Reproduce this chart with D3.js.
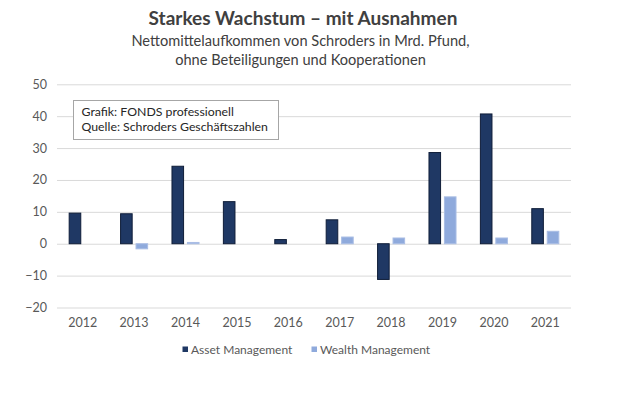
<!DOCTYPE html>
<html><head><meta charset="utf-8">
<script src="https://cdn.jsdelivr.net/npm/d3@7"></script>
<style>body{margin:0;background:#fff;} svg{display:block;font-family:Lato,"Noto Sans",sans-serif;}</style>
</head><body>
<svg id="c" width="620" height="413"></svg>
<script>
const years = ["2012","2013","2014","2015","2016","2017","2018","2019","2020","2021"];
const assetMgmt = [9.6, 9.4, 24.3, 13.2, 1.3, 7.5, -11.2, 28.6, 40.7, 11.0];
const wealthMgmt = [null, -1.6, 0.4, null, null, 2.1, 1.8, 14.7, 1.8, 3.9];
const seriesNames = ["Asset Management", "Wealth Management"];
const yTicks = [-20, -10, 0, 10, 20, 30, 40, 50];
const titleText = "Starkes Wachstum – mit Ausnahmen";
const subtitleLines = ["Nettomittelaufkommen von Schroders in Mrd. Pfund,", "ohne Beteiligungen und Kooperationen"];
const noteLines = ["Grafik: FONDS professionell", "Quelle: Schroders Geschäftszahlen"];

const colors = ["#1f3864", "#8faadc"];
const svg = d3.select("#c");
const L = 57, R = 571, T = 84.3, B = 307.5;

const x = d3.scaleBand().domain(years).range([L, R]).padding(0);
const x1 = d3.scaleBand().domain(seriesNames)
  .range([x.bandwidth()*0.237, x.bandwidth()*0.763]).paddingInner(0.25);
const y = d3.scaleLinear().domain([-20, 50]).range([B, T]);

// gridlines
const yAxis = d3.axisLeft(y).tickValues(yTicks).tickSize(-(R - L)).tickPadding(10).tickFormat(d3.format("d"));
const gy = svg.append("g").attr("transform", `translate(${L},0)`).call(yAxis);
gy.select(".domain").remove();
gy.selectAll(".tick line").attr("stroke", "#d9d9d9").attr("stroke-width", 1);
gy.selectAll(".tick text").attr("fill", "#595959").attr("font-size", 12.5).attr("x", -10)
  .attr("font-family", "Lato, sans-serif");

// bars
const data = years.map((yr, i) => ({yr, vals: [assetMgmt[i], wealthMgmt[i]]}));
const groups = svg.append("g").selectAll("g").data(data).join("g")
  .attr("transform", d => `translate(${x(d.yr)},0)`);
groups.selectAll("rect").data(d => d.vals.map((v, j) => ({v, s: seriesNames[j], j})).filter(e => e.v !== null))
  .join("rect")
  .attr("x", e => x1(e.s))
  .attr("width", x1.bandwidth())
  .attr("y", e => y(Math.max(0, e.v)))
  .attr("height", e => Math.abs(y(e.v) - y(0)))
  .attr("fill", e => colors[e.j])
  .attr("stroke", e => e.j === 0 ? "#0f1d38" : "#a9bde4")
  .attr("stroke-width", 1);

// x axis labels
const xAxis = d3.axisBottom(x).tickSize(0).tickPadding(0);
const gx = svg.append("g").attr("transform", `translate(0,${B})`).call(xAxis);
gx.select(".domain").remove();
gx.selectAll(".tick text").attr("fill", "#595959").attr("font-size", 12.5).attr("dy", null).attr("y", 19.5)
  .attr("font-family", "Lato, sans-serif");

// title
svg.append("text").attr("x", 303).attr("y", 24.5).attr("text-anchor", "middle")
  .attr("font-size", 19).attr("font-weight", "bold").attr("fill", "#404040").text(titleText);
svg.selectAll(".sub").data(subtitleLines).join("text").attr("class", "sub")
  .attr("x", 300.5).attr("y", (d, i) => 46 + i * 19).attr("text-anchor", "middle")
  .attr("font-size", 14.6).attr("fill", "#404040").text(d => d);

// note box
svg.append("rect").attr("x", 73.5).attr("y", 100.5).attr("width", 205).attr("height", 39)
  .attr("fill", "#fff").attr("stroke", "#a6a6a6").attr("stroke-width", 1);
svg.selectAll(".note").data(noteLines).join("text").attr("class", "note")
  .attr("x", 81.5).attr("y", (d, i) => 115.5 + i * 15).attr("font-size", 12.3).attr("fill", "#262626").text(d => d);

// legend
const legX = [182.5, 311.5];
const lg = svg.append("g").selectAll("g").data(seriesNames).join("g")
  .attr("transform", (d, i) => `translate(${legX[i]},346.5)`);
lg.append("rect").attr("width", 5.5).attr("height", 5.5).attr("fill", (d, i) => colors[i]);
lg.append("text").attr("x", 8.5).attr("y", 7).attr("font-size", 12).attr("fill", "#595959").text(d => d);
</script>
</body></html>
